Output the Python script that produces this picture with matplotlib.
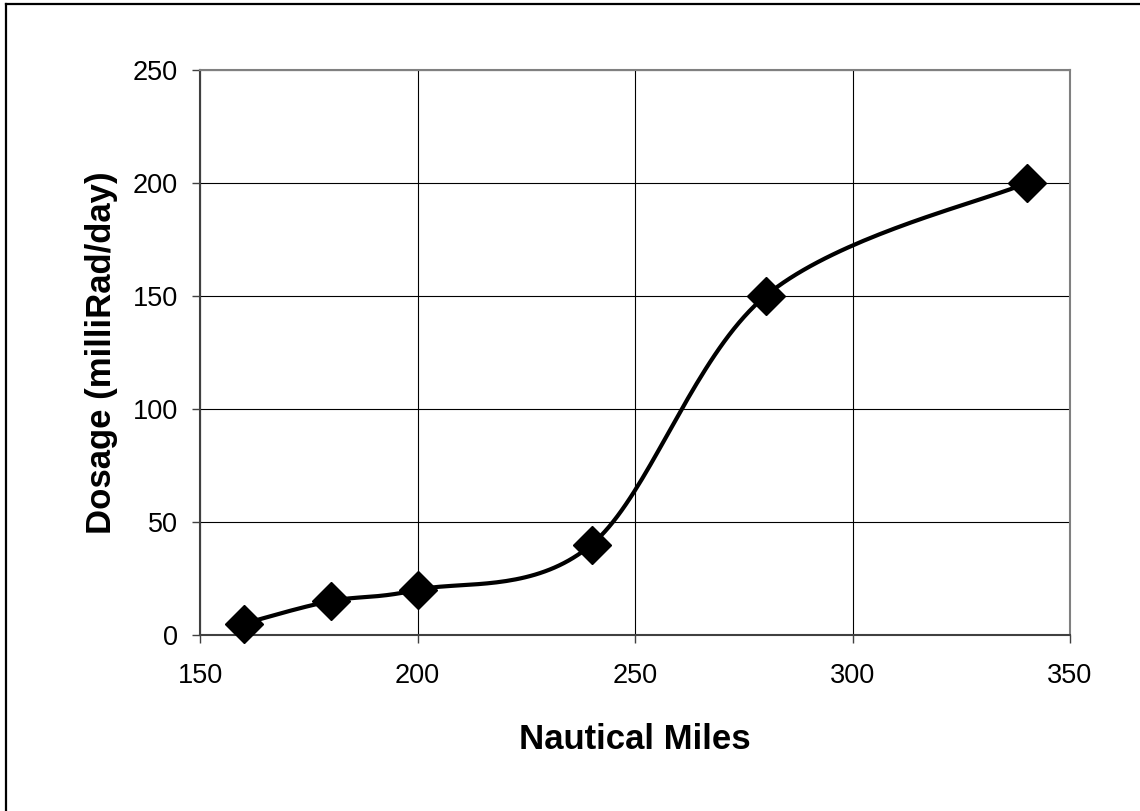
import numpy as np
import matplotlib
matplotlib.use("Agg")
import matplotlib.pyplot as plt
from matplotlib.lines import Line2D

# data
miles = [160, 180, 200, 240, 280, 340]
dosage = [5, 15, 20, 40, 150, 200]
x_ticks = [150, 200, 250, 300, 350]
y_ticks = [0, 50, 100, 150, 200, 250]


def smooth_curve(x, y, n=40):
    # Excel-like smoothed line: cubic Bezier with Catmull-Rom style control points
    x = np.asarray(x, float)
    y = np.asarray(y, float)
    px = np.concatenate([[x[0]], x, [x[-1]]])
    py = np.concatenate([[y[0]], y, [y[-1]]])
    t = np.linspace(0, 1, n)
    xs, ys = [], []
    for i in range(1, len(px) - 2):
        p0 = np.array([px[i], py[i]])
        p3 = np.array([px[i + 1], py[i + 1]])
        c1 = p0 + (np.array([px[i + 1], py[i + 1]]) - np.array([px[i - 1], py[i - 1]])) / 6
        c2 = p3 - (np.array([px[i + 2], py[i + 2]]) - np.array([px[i], py[i]])) / 6
        b = ((1 - t) ** 3)[:, None] * p0 + (3 * (1 - t) ** 2 * t)[:, None] * c1 \
            + (3 * (1 - t) * t ** 2)[:, None] * c2 + (t ** 3)[:, None] * p3
        xs.extend(b[:, 0])
        ys.extend(b[:, 1])
    return xs, ys


plt.rcParams['font.family'] = ['Liberation Sans', 'DejaVu Sans']

fig = plt.figure(figsize=(11.4, 8.11), dpi=100)
ax = fig.add_axes([200 / 1140, 1 - 635 / 811, 870 / 1140, 565 / 811])

sx, sy = smooth_curve(miles, dosage)
ax.plot(sx, sy, color='black', lw=3, zorder=3, solid_capstyle='round')
ax.plot(miles, dosage, linestyle='', marker='D', ms=19.5, color='black',
        markeredgewidth=1, zorder=4, clip_on=False)

ax.set_xlim(150, 350)
ax.set_ylim(0, 250)
ax.set_xticks(x_ticks)
ax.set_yticks(y_ticks)
ax.grid(True, color='black', lw=0.8)
ax.set_axisbelow(True)

ax.tick_params(axis='both', direction='out', length=6, width=1, color='#404040',
               labelsize=19.5)
ax.tick_params(axis='x', pad=14)
ax.tick_params(axis='y', pad=10)

for s in ['left', 'bottom']:
    ax.spines[s].set_color('#404040')
    ax.spines[s].set_linewidth(1.5)
for s in ['top', 'right']:
    ax.spines[s].set_color('#808080')
    ax.spines[s].set_linewidth(1.5)

ax.set_xlabel('Nautical Miles', fontsize=25, fontweight='bold', va='center')
ax.xaxis.set_label_coords(0.5, -0.185)
ax.set_ylabel('Dosage (milliRad/day)', fontsize=25, fontweight='bold', va='center')
ax.yaxis.set_label_coords(-0.113, 0.5)

# outer chart border (only left and top visible)
fig.add_artist(Line2D([6 / 1140, 6 / 1140], [0, 1 - 3.5 / 811], transform=fig.transFigure,
                      color='black', lw=1.6))
fig.add_artist(Line2D([6 / 1140, 1], [1 - 3.5 / 811, 1 - 3.5 / 811], transform=fig.transFigure,
                      color='black', lw=1.6))

fig.savefig('out.png', dpi=100)
